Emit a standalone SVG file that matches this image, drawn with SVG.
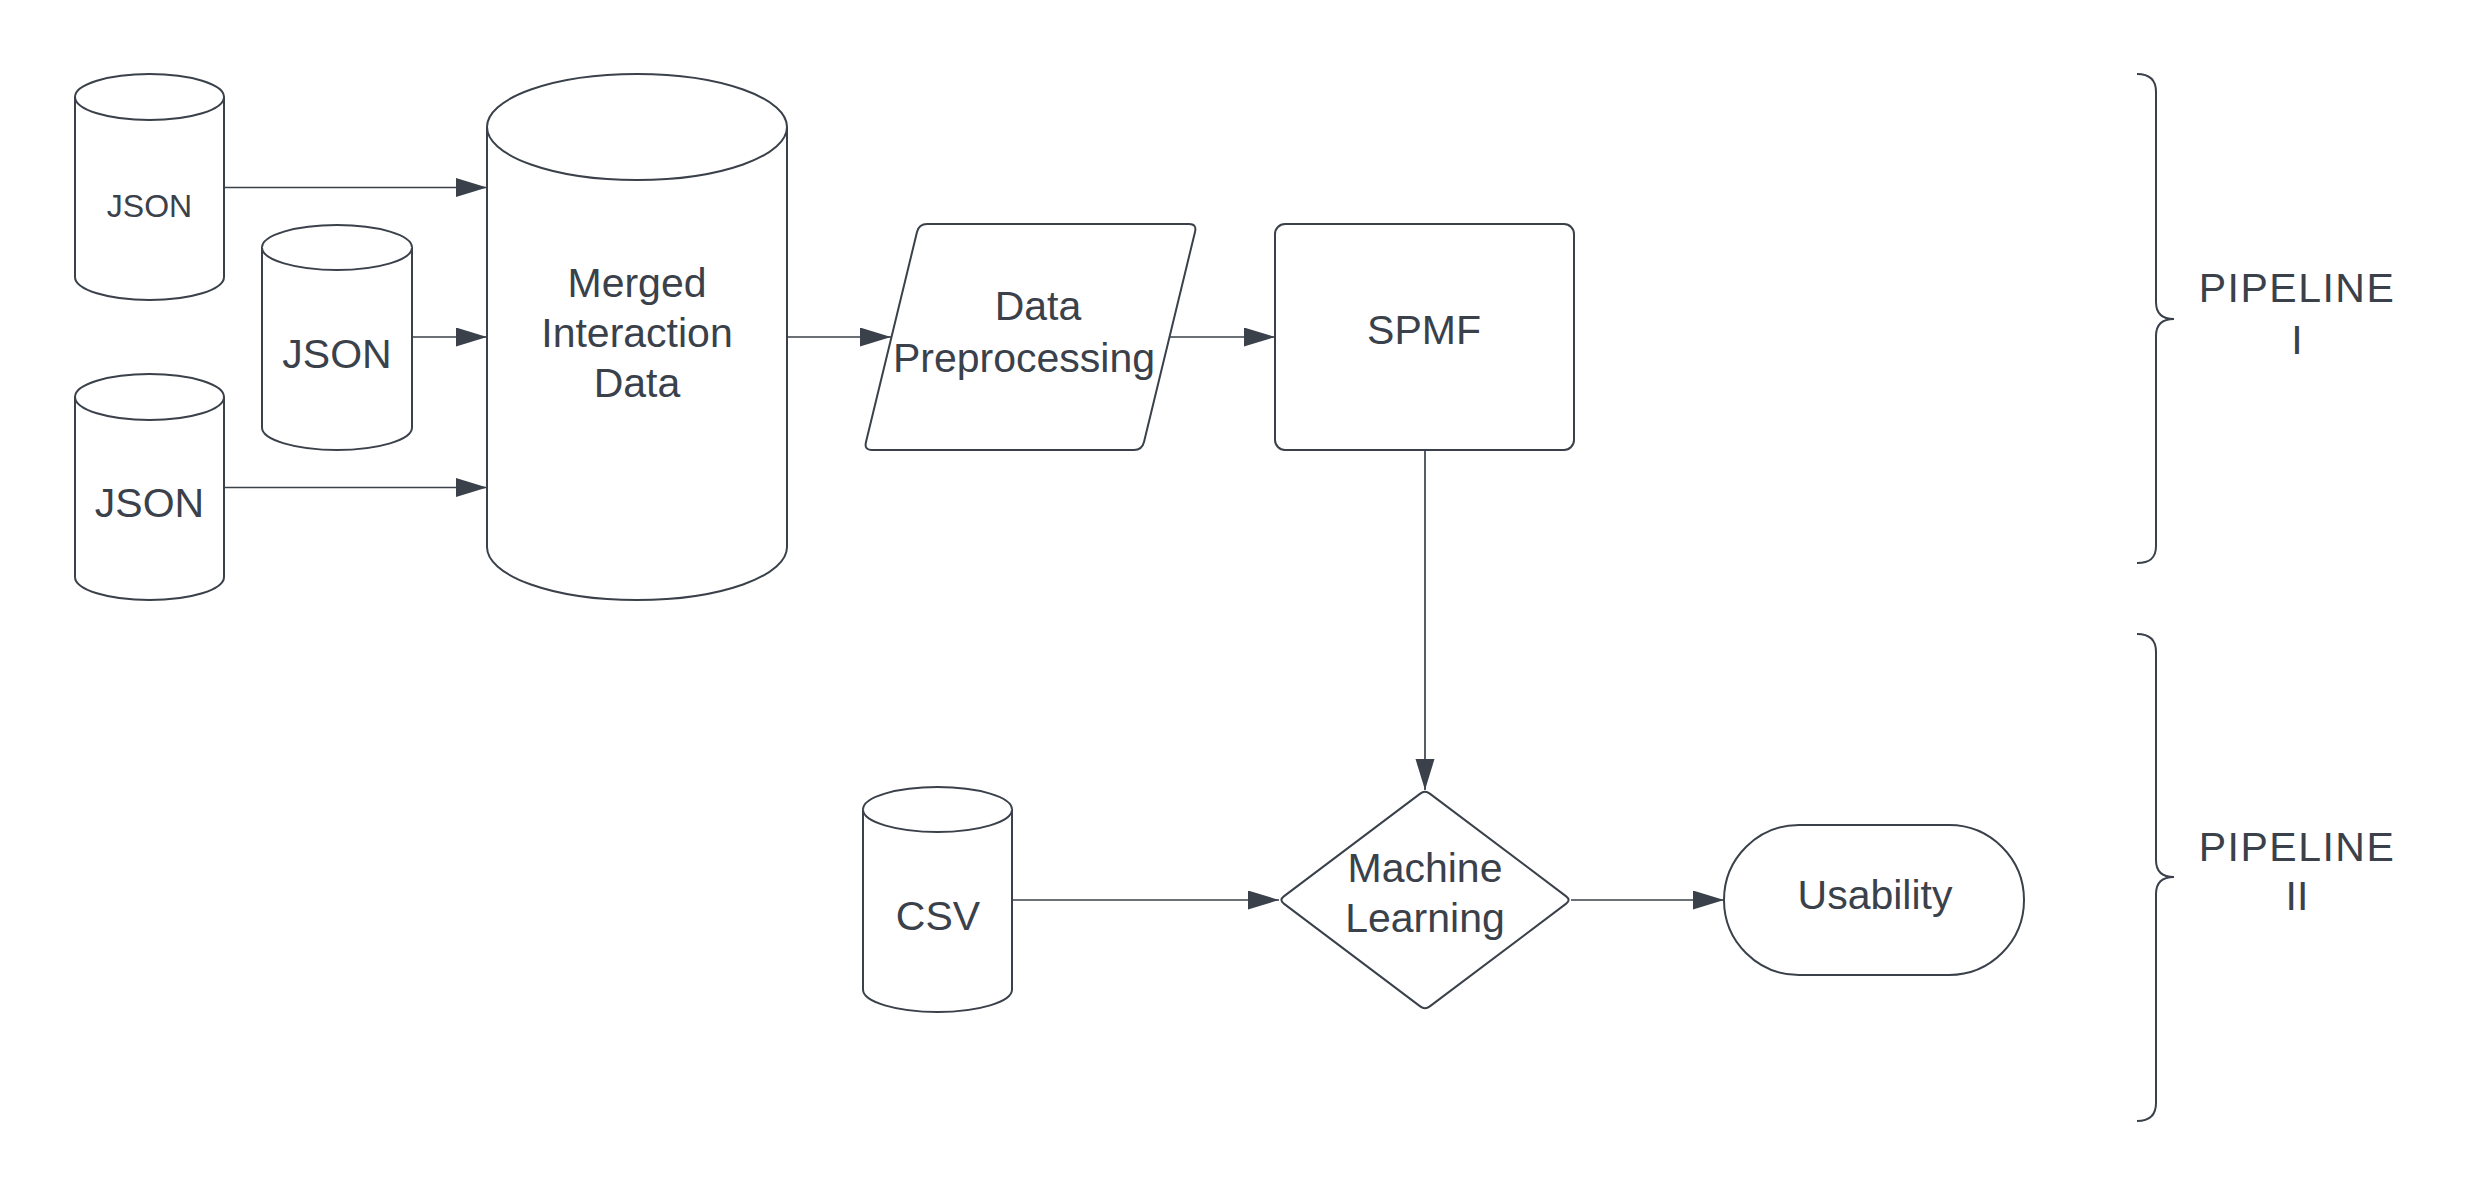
<svg xmlns="http://www.w3.org/2000/svg" width="2475" height="1196" viewBox="0 0 2475 1196">
<style>
.shape{fill:#ffffff;stroke:#3a414a;stroke-width:2}
.edge{fill:none;stroke:#3a414a;stroke-width:1.7}
.brace{fill:none;stroke:#3a414a;stroke-width:2}
text{font-family:"Liberation Sans",Arial,sans-serif;font-size:41px;fill:#3a414a;text-anchor:middle}
.small{font-size:32px}
.pl{letter-spacing:1.5px}
</style>
<defs>
<marker id="arr" markerUnits="userSpaceOnUse" markerWidth="32" markerHeight="20" refX="31" refY="9.5" orient="auto">
<path d="M0,0 L31,9.5 L0,19 Z" fill="#3a414a"/>
</marker>
</defs>
<rect width="2475" height="1196" fill="#ffffff"/>
<g id="connectors">
<path class="edge" d="M224,187.5 L487,187.5" marker-end="url(#arr)"/>
<path class="edge" d="M412,337 L487,337" marker-end="url(#arr)"/>
<path class="edge" d="M224,487.5 L487,487.5" marker-end="url(#arr)"/>
<path class="edge" d="M787,337 L891,337" marker-end="url(#arr)"/>
<path class="edge" d="M1169,337 L1275,337" marker-end="url(#arr)"/>
<path class="edge" d="M1425,450 L1425,790" marker-end="url(#arr)"/>
<path class="edge" d="M1012,900 L1279,900" marker-end="url(#arr)"/>
<path class="edge" d="M1571,900 L1724,900" marker-end="url(#arr)"/>
</g>
<g id="json1">
<path class="shape" d="M75,97 A74.5,23 0 0 1 224,97 L224,277 A74.5,23 0 0 1 75,277 Z"/>
<path class="shape" d="M75,97 A74.5,23 0 0 0 224,97"/>
<text class="small" x="149.5" y="217">JSON</text>
</g>
<g id="json2">
<path class="shape" d="M262,247.5 A75,22.5 0 0 1 412,247.5 L412,427.5 A75,22.5 0 0 1 262,427.5 Z"/>
<path class="shape" d="M262,247.5 A75,22.5 0 0 0 412,247.5"/>
<text x="337" y="368">JSON</text>
</g>
<g id="json3">
<path class="shape" d="M75,397 A74.5,23 0 0 1 224,397 L224,577 A74.5,23 0 0 1 75,577 Z"/>
<path class="shape" d="M75,397 A74.5,23 0 0 0 224,397"/>
<text x="149.5" y="517">JSON</text>
</g>
<g id="merged">
<path class="shape" d="M487,127 A150,53 0 0 1 787,127 L787,547 A150,53 0 0 1 487,547 Z"/>
<path class="shape" d="M487,127 A150,53 0 0 0 787,127"/>
<text x="637" y="297">Merged</text>
<text x="637" y="347">Interaction</text>
<text x="637" y="397">Data</text>
</g>
<g id="preprocessing">
<path class="shape" d="M927,224 L1189,224 Q1197,224 1195,232 L1144,442 Q1142,450 1134,450 L872,450 Q864,450 866,442 L917,232 Q919,224 927,224 Z"/>
<text x="1038" y="320">Data</text>
<text x="1024" y="372">Preprocessing</text>
</g>
<g id="spmf">
<rect class="shape" x="1275" y="224" width="299" height="226" rx="10"/>
<text x="1424" y="344">SPMF</text>
</g>
<g id="ml">
<path class="shape" d="M1429.8,793.6 L1566.2,896.4 Q1571,900 1566.2,903.6 L1429.8,1006.4 Q1425,1010 1420.2,1006.4 L1283.8,903.6 Q1279,900 1283.8,896.4 L1420.2,793.6 Q1425,790 1429.8,793.6 Z"/>
<text x="1425" y="882">Machine</text>
<text x="1425" y="932">Learning</text>
</g>
<g id="csv">
<path class="shape" d="M863,809.5 A74.5,22.5 0 0 1 1012,809.5 L1012,989.5 A74.5,22.5 0 0 1 863,989.5 Z"/>
<path class="shape" d="M863,809.5 A74.5,22.5 0 0 0 1012,809.5"/>
<text x="938" y="930">CSV</text>
</g>
<g id="usability">
<rect class="shape" x="1724" y="825" width="300" height="150" rx="75"/>
<text x="1875" y="909">Usability</text>
</g>
<g id="pipeline1">
<path class="brace" d="M2137,74 C2150,74 2156,80 2156,92 L2156,302 C2156,313 2162,319 2174,319 C2162,319 2156,325 2156,336 L2156,546 C2156,558 2150,563 2137,563"/>
<text class="pl" x="2297" y="302">PIPELINE</text>
<text x="2297" y="354">I</text>
</g>
<g id="pipeline2">
<path class="brace" d="M2137,634 C2150,634 2156,640 2156,652 L2156,860 C2156,871 2162,877 2174,877 C2162,877 2156,883 2156,894 L2156,1103 C2156,1115 2150,1121 2137,1121"/>
<text class="pl" x="2297" y="861">PIPELINE</text>
<text x="2297" y="910">II</text>
</g>
</svg>
